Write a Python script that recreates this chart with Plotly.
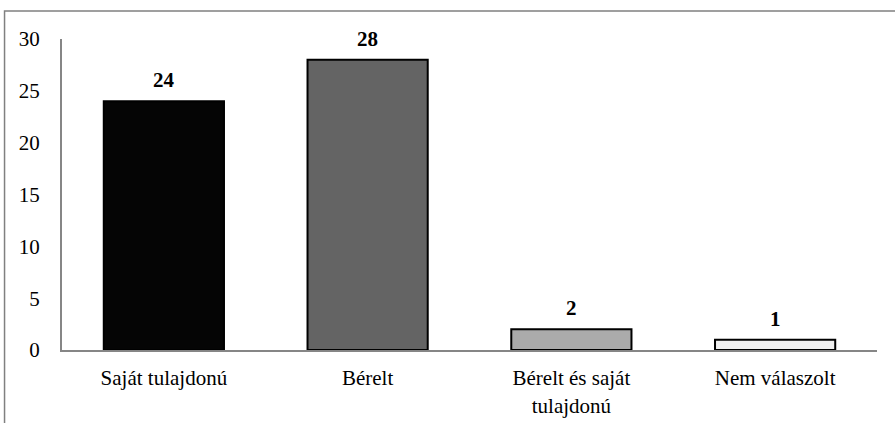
import plotly.graph_objects as go

# data
categories = ["Saját tulajdonú", "Bérelt", "Bérelt és saját<br>tulajdonú", "Nem válaszolt"]
values = [24, 28, 2, 1]
bar_colors = ["#050505", "#646464", "#ababab", "#f0f0f0"]

y_ticks = [0, 5, 10, 15, 20, 25, 30]

serif = "Liberation Serif"

fig = go.Figure(
    data=[
        go.Bar(
            x=categories,
            y=values,
            width=0.59,
            marker=dict(color=bar_colors, line=dict(color="#000000", width=2)),
            hoverinfo="x+y",
        )
    ]
)

# value labels above bars
for cat, val in zip(categories, values):
    fig.add_annotation(
        x=cat, y=val, text="<b>%d</b>" % val, showarrow=False,
        yanchor="bottom", yshift=7,
        font=dict(family=serif, size=21, color="#000000"),
    )

# outer chart border (right/bottom edges fall outside the image)
fig.add_shape(
    type="rect", xref="paper", yref="paper",
    x0=-0.0705, x1=1.05, y0=-0.3, y1=1.09,
    line=dict(color="#808080", width=1.5), fillcolor="rgba(0,0,0,0)",
)

fig.update_layout(
    width=895,
    height=423,
    margin=dict(l=62, r=18, t=39, b=73),
    paper_bgcolor="white",
    plot_bgcolor="white",
    showlegend=False,
    bargap=0.41,
    font=dict(family=serif, size=21, color="#000000"),
    xaxis=dict(
        showline=True, linecolor="#868686", linewidth=2,
        ticks="", showgrid=False, ticklabelstandoff=8, automargin=False,
        tickfont=dict(family=serif, size=21),
    ),
    yaxis=dict(
        range=[0, 30], tickvals=y_ticks, showline=True,
        linecolor="#868686", linewidth=2, ticks="", showgrid=False,
        zeroline=False, ticklabelstandoff=16, automargin=False,
        tickfont=dict(family=serif, size=21),
    ),
)

fig.write_html(
    "out.html",
    config={"displayModeBar": False},
    post_script="document.body.style.margin='0';",
)
